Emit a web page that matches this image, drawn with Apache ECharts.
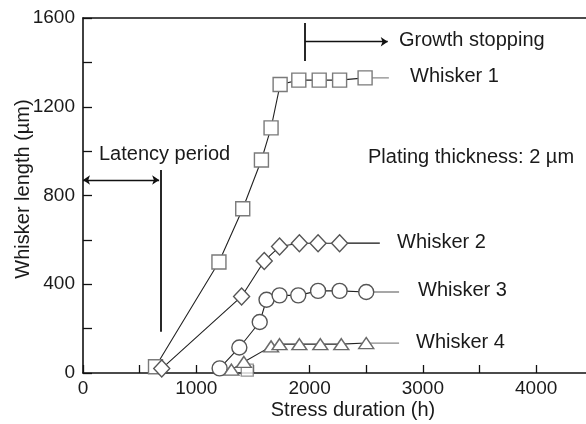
<!DOCTYPE html>
<html><head><meta charset="utf-8">
<script src="https://cdn.jsdelivr.net/npm/echarts@6/dist/echarts.min.js"></script>
<style>html,body{margin:0;padding:0;background:#fff}#c{width:586px;height:424px}</style>
</head><body><div id="c"></div>
<script>
// Data (stress duration h, whisker length µm)
const whisker1 = [[640,28],[1200,500],[1410,740],[1575,960],[1660,1105],[1740,1300],[1905,1320],[2085,1320],[2265,1320],[2490,1330]];
const whisker2 = [[695,20],[1400,345],[1600,505],[1735,570],[1910,585],[2075,585],[2265,585]];
const whisker3 = [[1206,21],[1380,115],[1560,230],[1620,330],[1735,350],[1900,350],[2075,370],[2265,370],[2500,365]];
const whisker4 = [[1310,15],[1420,50],[1660,120],[1735,130],[1910,130],[2095,130],[2280,130],[2500,135]];
const extraSquare = [[1450,13]];
const tailEnds = [2700, 2620, 2790, 2790];
const latencyLine = [[686,186],[686,915]];
const latencyArrow = [[0,870],[672,870]];
const stopLine = [[1960,1406],[1960,1577]];
const stopArrow = [[1960,1493],[2690,1493]];
const xTicks = [0,1000,2000,3000,4000];
const yTicks = [0,400,800,1200,1600];
const seriesNames = ['Whisker 1','Whisker 2','Whisker 3','Whisker 4'];

const FONT = 'Liberation Sans, Arial, sans-serif';
const chart = echarts.init(document.getElementById('c'), null, {renderer:'canvas'});
const all = [whisker1, whisker2, whisker3, whisker4];
const markers = [
  {symbol:'rect', size:14, border:'#7a7a7a'},
  {symbol:'diamond', size:[16,17], border:'#555'},
  {symbol:'circle', size:15, border:'#555'},
  {symbol:'triangle', size:[15,11], border:'#6a6a6a'}
];
const tailColors = ['#8a8a8a','#111','#8a8a8a','#8a8a8a'];
const series = [];
all.forEach((d,i)=>{
  const last = d[d.length-1];
  series.push({type:'line', name:seriesNames[i]+' tail', data:[last,[tailEnds[i], last[1]]], symbol:'none',
    lineStyle:{color:tailColors[i], width:1.3}, z:1, silent:true});
  series.push({type:'line', name:seriesNames[i], data:d, symbol:markers[i].symbol, symbolSize:markers[i].size,
    showAllSymbol:true,
    itemStyle:{color:'#fff', borderColor:markers[i].border, borderWidth:1.4},
    lineStyle:{color:'#222', width:1.1}, z:3, silent:true});
});
series.push({type:'scatter', data:extraSquare, symbol:'rect', symbolSize:12,
  itemStyle:{color:'#fff', borderColor:'#7a7a7a', borderWidth:1.4}, z:2, silent:true});
series.push({type:'lines', coordinateSystem:'cartesian2d', silent:true, z:4,
  data:[{coords:latencyLine},{coords:stopLine}], symbol:'none',
  lineStyle:{color:'#111', width:1.8, opacity:1}});
series.push({type:'lines', coordinateSystem:'cartesian2d', silent:true, z:4,
  data:[{coords:latencyArrow, symbol:['arrow','arrow']},{coords:stopArrow, symbol:['none','arrow']}],
  symbolSize:7, lineStyle:{color:'#111', width:1.3, opacity:1}});

const txt = (t,x,y,extra)=>Object.assign({type:'text', x:x, y:y, style:{text:t, font:'20px '+FONT, fill:'#1a1a1a', textVerticalAlign:'middle'}}, extra||{});

chart.setOption({
  animation:false,
  backgroundColor:'#fff',
  grid:{left:83, top:18, right:0, bottom:51, containLabel:false},
  xAxis:[{type:'value', min:0, max:4440, interval:500, position:'bottom',
    axisLine:{lineStyle:{color:'#111', width:1.6}},
    axisTick:{inside:true, length:8, lineStyle:{color:'#111', width:1.3}},
    axisLabel:{margin:6, fontSize:19, fontFamily:FONT, color:'#1a1a1a', showMaxLabel:false,
      formatter:v=> xTicks.indexOf(v)>=0 ? String(v) : ''},
    splitLine:{show:false}},
   {type:'value', min:0, max:4440, position:'top',
    axisLine:{show:true, lineStyle:{color:'#111', width:1.6}},
    axisTick:{show:false}, axisLabel:{show:false}, splitLine:{show:false}}],
  yAxis:{type:'value', min:0, max:1600, interval:200,
    axisLine:{show:true, lineStyle:{color:'#111', width:1.6}},
    axisTick:{inside:true, length:9, lineStyle:{color:'#111', width:1.3}},
    axisLabel:{margin:8, fontSize:19, fontFamily:FONT, color:'#1a1a1a',
      formatter:v=> yTicks.indexOf(v)>=0 ? String(v) : ''},
    splitLine:{show:false}},
  series:series,
  graphic:[
    txt('Whisker length (\u00b5m)', 23, 189, {rotation:Math.PI/2, style:{text:'Whisker length (\u00b5m)', font:'20px '+FONT, fill:'#1a1a1a', textAlign:'center', textVerticalAlign:'middle'}}),
    txt('Stress duration (h)', 353, 410, {style:{text:'Stress duration (h)', font:'20px '+FONT, fill:'#1a1a1a', textAlign:'center', textVerticalAlign:'middle'}}),
    txt('Latency period', 99, 154),
    txt('Growth stopping', 399, 40),
    txt('Whisker 1', 410, 76),
    txt('Plating thickness: 2 \u00b5m', 368, 157),
    txt('Whisker 2', 397, 242),
    txt('Whisker 3', 418, 290),
    txt('Whisker 4', 416, 342)
  ]
});
</script></body></html>
